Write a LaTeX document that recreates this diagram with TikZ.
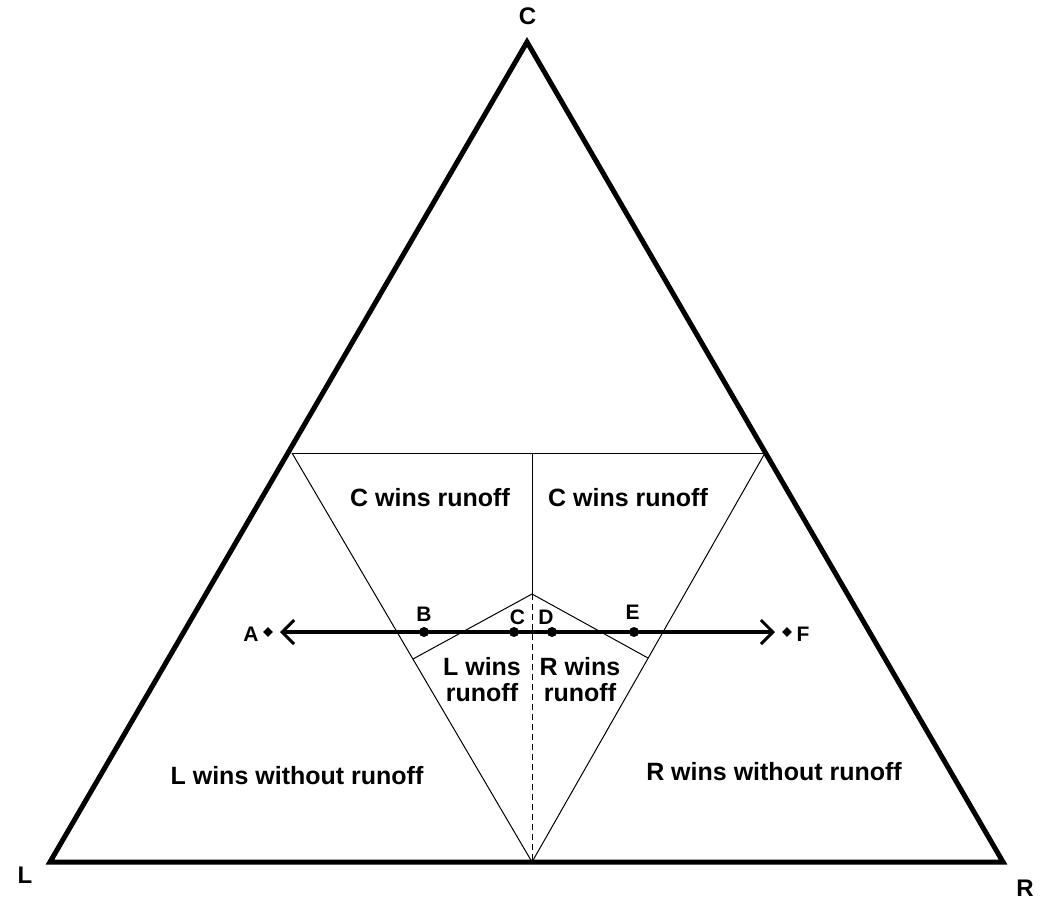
\documentclass[tikz,border=0pt]{standalone}
\usepackage{fontspec}
\setmainfont{Liberation Sans}
\usetikzlibrary{arrows.meta,shapes.geometric}
\begin{document}
\begin{tikzpicture}[x=1pt,y=-1pt,
  vlbl/.style={font=\fontsize{24}{24}\selectfont\bfseries, inner sep=0pt},
  plbl/.style={font=\fontsize{21}{21}\selectfont\bfseries, inner sep=0pt},
  reg/.style={font=\fontsize{25}{26}\selectfont\bfseries, inner sep=0pt, align=center},
  thin/.style={line width=1pt},
  dot/.style={circle, fill=black, inner sep=0pt, minimum size=10pt},
  enddot/.style={diamond, fill=black, inner sep=0pt, minimum size=10pt},
  twobarbs/.style={line width=3.5pt, {Straight Barb[length=12pt,width=24pt,line width=3pt]}-{Straight Barb[length=12pt,width=24pt,line width=3pt]}}]
\useasboundingbox (0,0) rectangle (1041,900);
% vertices
\coordinate (L) at (50,862);
\coordinate (R) at (1003,862);
\coordinate (C) at (527,42);
\coordinate (TL) at (292,453);
\coordinate (TR) at (765,453);
\coordinate (TM) at (532,453);
\coordinate (K) at (532,594);
\coordinate (B0) at (532,862);
\coordinate (KL) at (413,659);
\coordinate (KR) at (648,658);
% outer triangle
\draw[line width=5pt, line join=miter] (L) -- (R) -- (C) -- cycle;
% inner lines
\draw[thin] (TL) -- (TR);
\draw[thin] (TL) -- (B0) -- (TR);
\draw[thin] (TM) -- (K);
\draw[thin] (KL) -- (K) -- (KR);
\draw[thin, dash pattern=on 6pt off 4pt] (K) -- (B0);
% arrow line
\coordinate (AL) at (280,632);
\coordinate (AR) at (775,632);
\draw[twobarbs] (AL) -- (AR);
% points
\node[enddot] (pA) at (268,632) {};
\node[enddot] (pF) at (787,632) {};
\node[dot] (pB) at (424,632) {};
\node[dot] (pC) at (514,632) {};
\node[dot] (pD) at (552,632) {};
\node[dot] (pE) at (634,632) {};
% labels
\node[plbl] (tA) at (251,634) {A};
\node[plbl] (tF) at (803,634) {F};
\node[plbl] (tB) at (424,614) {B};
\node[plbl] (tC) at (517.5,617.5) {C};
\node[plbl] (tD) at (546,617.5) {D};
\node[plbl] (tE) at (632.5,612.5) {E};
\node[vlbl] (vC) at (527.5,16.5) {C};
\node[vlbl] (vL) at (25,875) {L};
\node[vlbl] (vR) at (1025,888) {R};
% region labels
\node[reg] (r1) at (430,497.5) {C wins runoff};
\node[reg] (r2) at (628,497.5) {C wins runoff};
\node[reg] (r3) at (482,680) {L wins\\runoff};
\node[reg] (r4) at (580,680) {R wins\\runoff};
\node[reg] (r5) at (297,776) {L wins without runoff};
\node[reg] (r6) at (774,772) {R wins without runoff};
\end{tikzpicture}
\end{document}
